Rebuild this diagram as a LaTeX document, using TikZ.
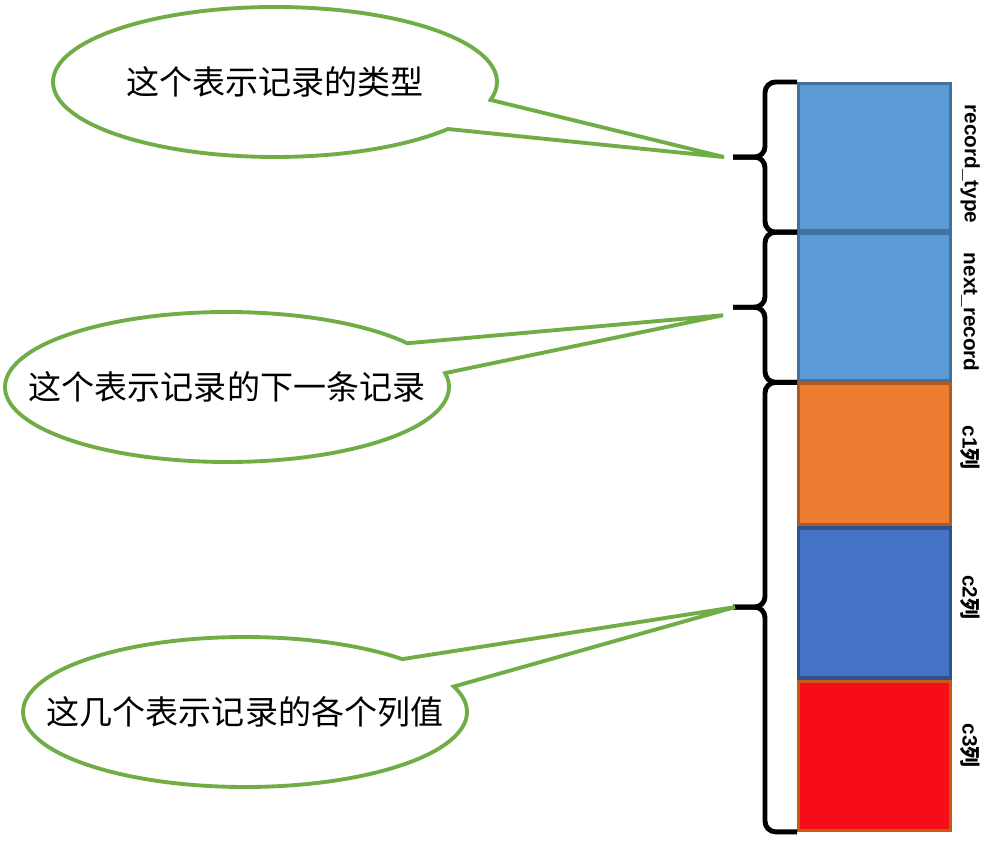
\documentclass[tikz,border=0pt]{standalone}
\usepackage{fontspec}
\setmainfont{Liberation Sans}
\newfontfamily\cjk{Noto Sans CJK SC}
\usepackage{tikz}
\usetikzlibrary{positioning,calc,shapes.callouts}
\definecolor{fieldblue}{HTML}{5B9BD5}
\definecolor{fieldblueedge}{HTML}{41719C}
\definecolor{colorange}{HTML}{ED7D31}
\definecolor{colorangeedge}{HTML}{AE5A21}
\definecolor{colblue}{HTML}{4472C4}
\definecolor{colblueedge}{HTML}{2F528F}
\definecolor{colred}{HTML}{F70D1A}
\definecolor{colrededge}{HTML}{C55A11}
\definecolor{calloutgreen}{HTML}{70AD47}

\newcommand{\recbrace}[3]{%
    \draw[bracestyle] (#1) -- ++(-0.32,0) |- ($(#1)!0.5!(#2)+(-0.64,0)$) coordinate (#3);
    \draw[bracestyle] (#2) -- ++(-0.32,0) |- (#3);
}
\newcommand{\bubbletext}[1]{\makebox[0pt]{#1}}

\begin{document}
\begin{tikzpicture}[
        field/.style={
            rectangle,
            line width=0.9pt,
            minimum width=1.52cm,
            inner sep=0pt
        },
        fieldlabel/.style={
            rotate=-90,
            font=\bfseries\fontsize{5.9pt}{7pt}\selectfont,
            inner sep=0pt
        },
        bracestyle/.style={
            line width=1.4pt,
            rounded corners=3pt
        },
        bubble/.style={
            ellipse callout,
            draw=calloutgreen,
            line width=1.1pt,
            fill=white,
            minimum width=4.44cm,
            minimum height=1.5cm,
            inner sep=0pt,
            callout pointer arc=25,
            font=\cjk\fontsize{9.4pt}{11pt}\selectfont
        }
    ]
        \useasboundingbox (0,0) rectangle (10,8.43);

        % Record fields
        \node (rt) [field, fill=fieldblue, draw=fieldblueedge, minimum height=1.47cm, anchor=north west] at (7.97,7.61) {};
        \node (nr) [field, fill=fieldblue, draw=fieldblueedge, minimum height=1.47cm, below=0cm of rt] {};
        \node (c1) [field, fill=colorange, draw=colorangeedge, minimum height=1.41cm, below=0cm of nr] {};
        \node (c2) [field, fill=colblue, draw=colblueedge, minimum height=1.50cm, below=0cm of c1] {};
        \node (c3) [field, fill=colred, draw=colrededge, minimum height=1.49cm, below=0cm of c2] {};

        % Field names
        \node (rtl) [fieldlabel] at ([xshift=0.18cm,yshift=-0.07cm]rt.east) {record\_type};
        \node (nrl) [fieldlabel] at ([xshift=0.18cm,yshift=-0.05cm]nr.east) {next\_record};
        \node (c1l) [fieldlabel] at ([xshift=0.18cm,yshift=0.07cm]c1.east) {c1{\cjk 列}};
        \node (c2l) [fieldlabel] at ([xshift=0.18cm,yshift=0.06cm]c2.east) {c2{\cjk 列}};
        \node (c3l) [fieldlabel] at ([xshift=0.18cm,yshift=0.1cm]c3.east) {c3{\cjk 列}};

        % Braces
        \recbrace{rt.north west}{rt.south west}{b1}
        \recbrace{nr.north west}{nr.south west}{b2}
        \recbrace{c1.north west}{c3.south west}{b3}

        % Callouts
        \node (q1) [bubble, callout absolute pointer={([xshift=-0.09cm]b1)}] at (2.75,7.61) {\bubbletext{这个表示记录的类型}};
        \node (q2) [bubble, callout absolute pointer={([xshift=-0.1cm,yshift=-0.08cm]b2)}] at (2.27,4.56) {\bubbletext{这个表示记录的下一条记录}};
        \node (q3) [bubble, callout absolute pointer={([xshift=0.02cm]b3)}] at (2.45,1.31) {\bubbletext{这几个表示记录的各个列值}};

    \end{tikzpicture}
\end{document}
